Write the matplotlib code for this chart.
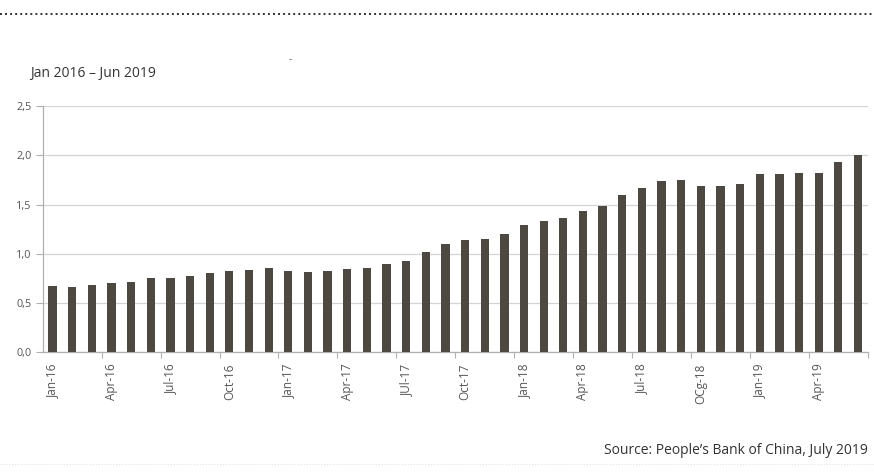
import matplotlib
matplotlib.use("Agg")
from matplotlib import pyplot
import matplotlib.ticker as ticker
import numpy

# monthly values, Jan 2016 - Jun 2019
months = ["Jan-16", "Feb-16", "Mar-16", "Apr-16", "May-16", "Jun-16",
          "Jul-16", "Aug-16", "Sep-16", "Oct-16", "Nov-16", "Dec-16",
          "Jan-17", "Feb-17", "Mar-17", "Apr-17", "May-17", "Jun-17",
          "JUl-17", "Aug-17", "Sep-17", "Oct-17", "Nov-17", "Dec-17",
          "Jan-18", "Feb-18", "Mar-18", "Apr-18", "May-18", "Jun-18",
          "Jul-18", "Aug-18", "Sep-18", "OCg-18", "Nov-18", "Dec-18",
          "Jan-19", "Feb-19", "Mar-19", "Apr-19", "May-19", "Jun-19"]
values = [0.673, 0.667, 0.684, 0.707, 0.714, 0.758,
          0.751, 0.775, 0.809, 0.822, 0.839, 0.853,
          0.822, 0.816, 0.829, 0.843, 0.853, 0.893,
          0.931, 1.015, 1.100, 1.144, 1.154, 1.201,
          1.293, 1.330, 1.364, 1.431, 1.489, 1.594,
          1.672, 1.743, 1.750, 1.692, 1.692, 1.709,
          1.807, 1.807, 1.817, 1.824, 1.936, 2.000]
y_ticks = [0.0, 0.5, 1.0, 1.5, 2.0, 2.5]
y_tick_labels = ["0,0", "0,5", "1,0", "1,5", "2,0", "2,5"]

title = "Jan 2016 – Jun 2019"
source = "Source: People’s Bank of China, July 2019"

pyplot.rcParams["font.family"] = ["Open Sans", "DejaVu Sans"]

fig = pyplot.figure(figsize=(8.74, 4.74), dpi=100)
ax = fig.add_axes([0.0489, 0.2567, 0.944, 0.5197])

x = numpy.arange(len(values))
ax.bar(x, values, width=0.42, color="#4d4842", zorder=3)

ax.set_xlim(-0.5, len(values) - 0.5)
ax.set_ylim(0, 2.5)

# y axis: light grid, comma decimals
ax.set_yticks(y_ticks)
ax.set_yticklabels(y_tick_labels)
ax.grid(axis="y", color="#d4d4d4", linewidth=0.9, zorder=0)

# x axis: label every third month, tick marks at group boundaries
ax.set_xticks(x[::3])
ax.set_xticklabels(months[::3], rotation=90)
ax.xaxis.set_minor_locator(ticker.FixedLocator(numpy.arange(2.5, len(values), 3)))
ax.tick_params(axis="x", which="major", length=0, pad=8, labelsize=8.5)
ax.tick_params(axis="x", which="minor", length=4, color="#b0b0b0", width=0.8)
ax.tick_params(axis="y", length=5, color="#b0b0b0", width=0.8, pad=3, labelsize=7.8)
ax.tick_params(axis="both", labelcolor="#555555")

for side in ["top", "right"]:
    ax.spines[side].set_visible(False)
for side in ["left", "bottom"]:
    ax.spines[side].set_color("#b0b0b0")
    ax.spines[side].set_linewidth(0.9)

# decoration outside the plot
fig.add_artist(pyplot.Line2D([0.0, 1.0], [1 - 14 / 474, 1 - 14 / 474],
                             color="#333333", linewidth=1.4, linestyle=(0, (1, 1.6))))
fig.add_artist(pyplot.Line2D([0.0, 1.0], [1 - 464 / 474, 1 - 464 / 474],
                             color="#e4e4e4", linewidth=0.8, linestyle=(0, (1, 1.6))))
fig.text(290 / 874, 1 - 60 / 474, "-", fontsize=7, color="#555555", ha="center", va="center")
fig.text(30 / 874, 1 - 74 / 474, title, fontsize=10, color="#333333", ha="left", va="center")
fig.text(868 / 874, 1 - 451 / 474, source, fontsize=10, color="#333333", ha="right", va="center")

fig.savefig("out.png", dpi=100)
